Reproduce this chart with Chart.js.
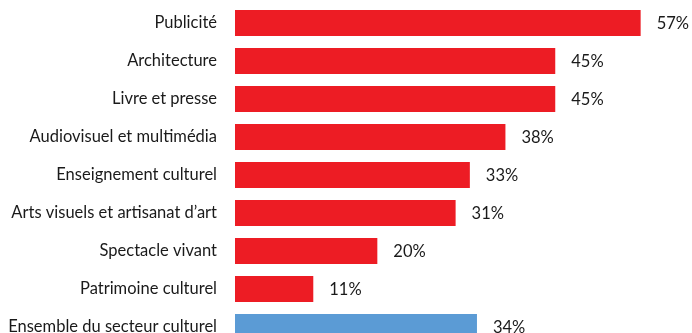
<!DOCTYPE html>
<html lang="fr">
<head>
<meta charset="utf-8">
<script src="https://cdn.jsdelivr.net/npm/chart.js@4"></script>
<style>
    html, body { margin: 0; padding: 0; background: #fff; overflow: hidden; }
    canvas { display: block; }
</style>
</head>
<body>
<canvas id="myChart" width="692" height="346"></canvas>
<script>
// Part des emplois par domaine culturel
const categories = [
    'Publicité',
    'Architecture',
    'Livre et presse',
    'Audiovisuel et multimédia',
    'Enseignement culturel',
    'Arts visuels et artisanat d’art',
    'Spectacle vivant',
    'Patrimoine culturel',
    'Ensemble du secteur culturel'
];
const shares = [57, 45, 45, 38, 33, 31, 20, 11, 34];
const totalLabel = 'Ensemble du secteur culturel';

const RED = '#ED1C24';
const BLUE = '#5B9BD5';
const FONT = 'Lato, "Open Sans", sans-serif';

// writes "xx%" just right of each bar
const valueLabels = {
    id: 'valueLabels',
    afterDatasetsDraw(chart) {
        const ctx = chart.ctx;
        const meta = chart.getDatasetMeta(0);
        ctx.save();
        ctx.font = '16.5px ' + FONT;
        ctx.fillStyle = '#1a1a1a';
        ctx.textAlign = 'left';
        ctx.textBaseline = 'middle';
        meta.data.forEach(function(bar, i) {
            ctx.fillText(shares[i] + '%', bar.x + 16, bar.y + 1);
        });
        ctx.restore();
    }
};

function renderChart(labels, data) {
    const ctx = document.getElementById('myChart').getContext('2d');
    const myChart = new Chart(ctx, {
        type: 'bar',
        data: {
            labels: labels,
            datasets: [{
                data: data,
                backgroundColor: labels.map(l => l === totalLabel ? BLUE : RED),
                borderWidth: 0,
                categoryPercentage: 1,
                barPercentage: 0.684
            }]
        },
        options: {
            indexAxis: 'y',
            responsive: false,
            animation: false,
            layout: { padding: { top: 4, right: 30, bottom: 0, left: 0 } },
            plugins: {
                legend: { display: false },
                tooltip: { enabled: false }
            },
            scales: {
                x: {
                    display: false,
                    min: 0,
                    max: 60
                },
                y: {
                    offset: true,
                    grid: { display: false, drawTicks: false },
                    border: { display: false },
                    ticks: {
                        color: '#1a1a1a',
                        padding: 18,
                        font: { family: FONT, size: 16.5 }
                    },
                    afterFit(scale) {
                        scale.width = 235;
                        scale.paddingTop = 0;
                        scale.paddingBottom = 0;
                    }
                }
            }
        },
        plugins: [valueLabels]
    });
}

renderChart(categories, shares);
</script>
</body>
</html>
